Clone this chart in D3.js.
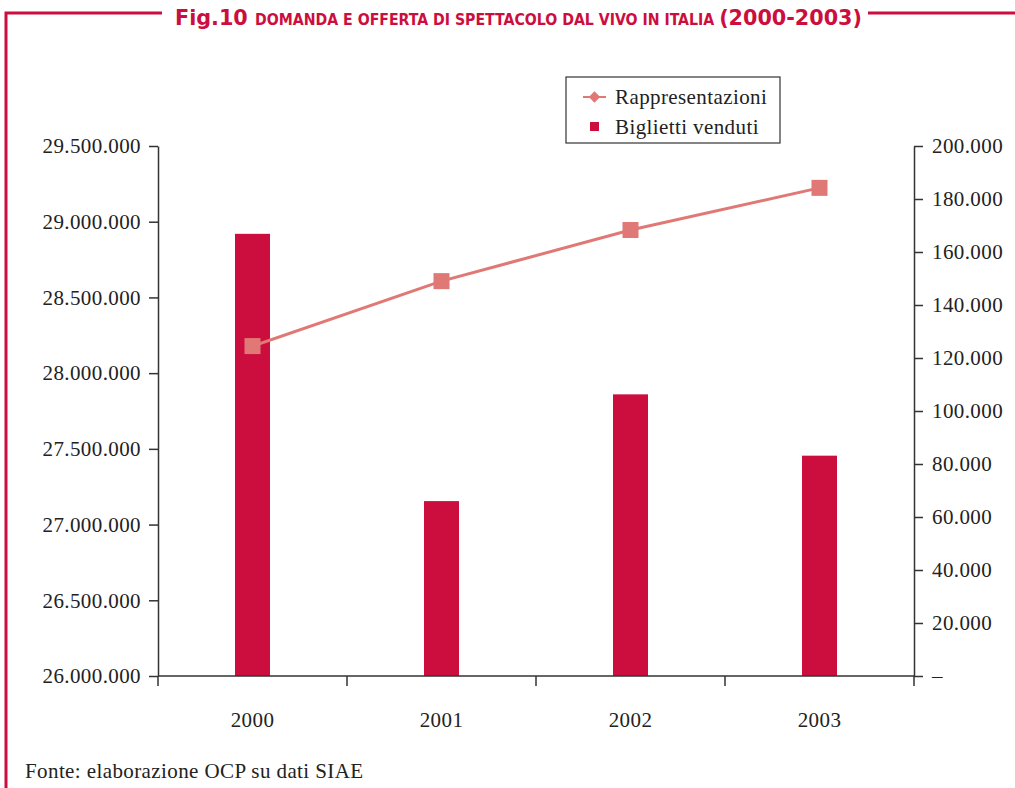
<!DOCTYPE html>
<html>
<head>
<meta charset="utf-8">
<script src="https://cdn.jsdelivr.net/npm/d3@7"></script>
<style>
  body { margin: 0; background: #fff; }
  svg { display: block; }
  .lab { font-family: "Liberation Serif", serif; font-size: 21px; letter-spacing: 0.4px; fill: #222; }
</style>
</head>
<body>
<svg id="chart" width="1015" height="788"></svg>
<script>
// data
const years = ['2000', '2001', '2002', '2003'];
const biglietti = [28920000, 27155000, 27860000, 27455000];
const rappresentazioni = [124500, 149000, 168300, 184200];
const leftTicks = [26000000, 26500000, 27000000, 27500000, 28000000, 28500000, 29000000, 29500000];
const rightTicks = [0, 20000, 40000, 60000, 80000, 100000, 120000, 140000, 160000, 180000, 200000];

const
    svg = d3.select('#chart'),
    red = '#cc0e3e',
    pink = '#e07875',
    axisCol = '#333',
    m = { left: 158, right: 914, top: 146, bottom: 676 };

const fmt = v => v === 0 ? '–' : d3.format(',')(v).replace(/,/g, '.');

// frame
svg.append('path')
    .attr('d', 'M6,788 V13 H162 M868,13 H1015')
    .attr('fill', 'none')
    .attr('stroke', red)
    .attr('stroke-width', 3);

// title
const title = svg.append('text')
    .attr('x', 175).attr('y', 25)
    .attr('fill', red)
    .attr('font-family', '"DejaVu Sans Condensed", "DejaVu Sans", sans-serif')
    .attr('font-weight', 'bold')
    .attr('textLength', 687)
    .attr('lengthAdjust', 'spacingAndGlyphs');
title.append('tspan').attr('font-size', 22).text('Fig.10 ');
title.append('tspan').attr('font-size', 15).text('DOMANDA E OFFERTA DI SPETTACOLO DAL VIVO IN ITALIA ');
title.append('tspan').attr('font-size', 22).text('(2000-2003)');

// scales
const x = d3.scaleBand().domain(years).range([m.left, m.right]);
const yL = d3.scaleLinear().domain([26000000, 29500000]).range([m.bottom, m.top]);
const yR = d3.scaleLinear().domain([0, 200000]).range([m.bottom, m.top]);

// bars
svg.append('g').selectAll('rect').data(years).join('rect')
    .attr('x', d => x(d) + x.bandwidth() / 2 - 17.5)
    .attr('width', 35)
    .attr('y', (d, i) => yL(biglietti[i]))
    .attr('height', (d, i) => m.bottom - yL(biglietti[i]))
    .attr('fill', red);

// axes
function styleAxis(g) {
    g.select('.domain').attr('stroke', axisCol).attr('stroke-width', 1.5);
    g.selectAll('.tick line').attr('stroke', axisCol).attr('stroke-width', 1.5);
    g.selectAll('.tick text').attr('class', 'lab').attr('font-family', null).attr('font-size', null);
}

svg.append('g')
    .attr('transform', `translate(${m.left},0)`)
    .call(d3.axisLeft(yL).tickValues(leftTicks).tickFormat(fmt).tickSize(9).tickSizeOuter(0).tickPadding(8))
    .call(styleAxis);

svg.append('g')
    .attr('transform', `translate(${m.right},0)`)
    .call(d3.axisRight(yR).tickValues(rightTicks).tickFormat(fmt).tickSize(9).tickSizeOuter(0).tickPadding(9))
    .call(styleAxis);

const xAxis = svg.append('g')
    .attr('transform', `translate(0,${m.bottom})`)
    .call(d3.axisBottom(x).tickSize(0).tickPadding(36))
    .call(styleAxis);
xAxis.select('.domain').attr('d', `M${m.left},0H${m.right}`);
xAxis.selectAll('.sep').data(d3.range(years.length + 1)).join('line')
    .attr('x1', i => m.left + i * x.step()).attr('x2', i => m.left + i * x.step())
    .attr('y1', 0).attr('y2', 10)
    .attr('stroke', axisCol).attr('stroke-width', 1.5);

// line
const cx = d => x(d) + x.bandwidth() / 2;
svg.append('path')
    .datum(years)
    .attr('d', d3.line().x(cx).y((d, i) => yR(rappresentazioni[i])))
    .attr('fill', 'none')
    .attr('stroke', pink)
    .attr('stroke-width', 3);

svg.append('g').selectAll('rect').data(years).join('rect')
    .attr('x', d => cx(d) - 8)
    .attr('y', (d, i) => yR(rappresentazioni[i]) - 8)
    .attr('width', 16).attr('height', 16)
    .attr('fill', pink);

// legend
const lg = svg.append('g').attr('transform', 'translate(566,77)');
lg.append('rect').attr('width', 214).attr('height', 66)
    .attr('fill', '#fff').attr('stroke', '#333').attr('stroke-width', 1.2);
lg.append('line').attr('x1', 17).attr('x2', 40).attr('y1', 20).attr('y2', 20)
    .attr('stroke', pink).attr('stroke-width', 2);
lg.append('rect').attr('x', 24.5).attr('y', 16).attr('width', 8).attr('height', 8)
    .attr('transform', 'rotate(45,28.5,20)').attr('fill', pink);
lg.append('rect').attr('x', 24).attr('y', 45).attr('width', 9).attr('height', 9).attr('fill', red);
lg.append('text').attr('class', 'lab').attr('x', 49).attr('y', 27).text('Rappresentazioni');
lg.append('text').attr('class', 'lab').attr('x', 49).attr('y', 57).text('Biglietti venduti');

// source
svg.append('text').attr('class', 'lab').attr('x', 25).attr('y', 778)
    .text('Fonte: elaborazione OCP su dati SIAE');
</script>
</body>
</html>
